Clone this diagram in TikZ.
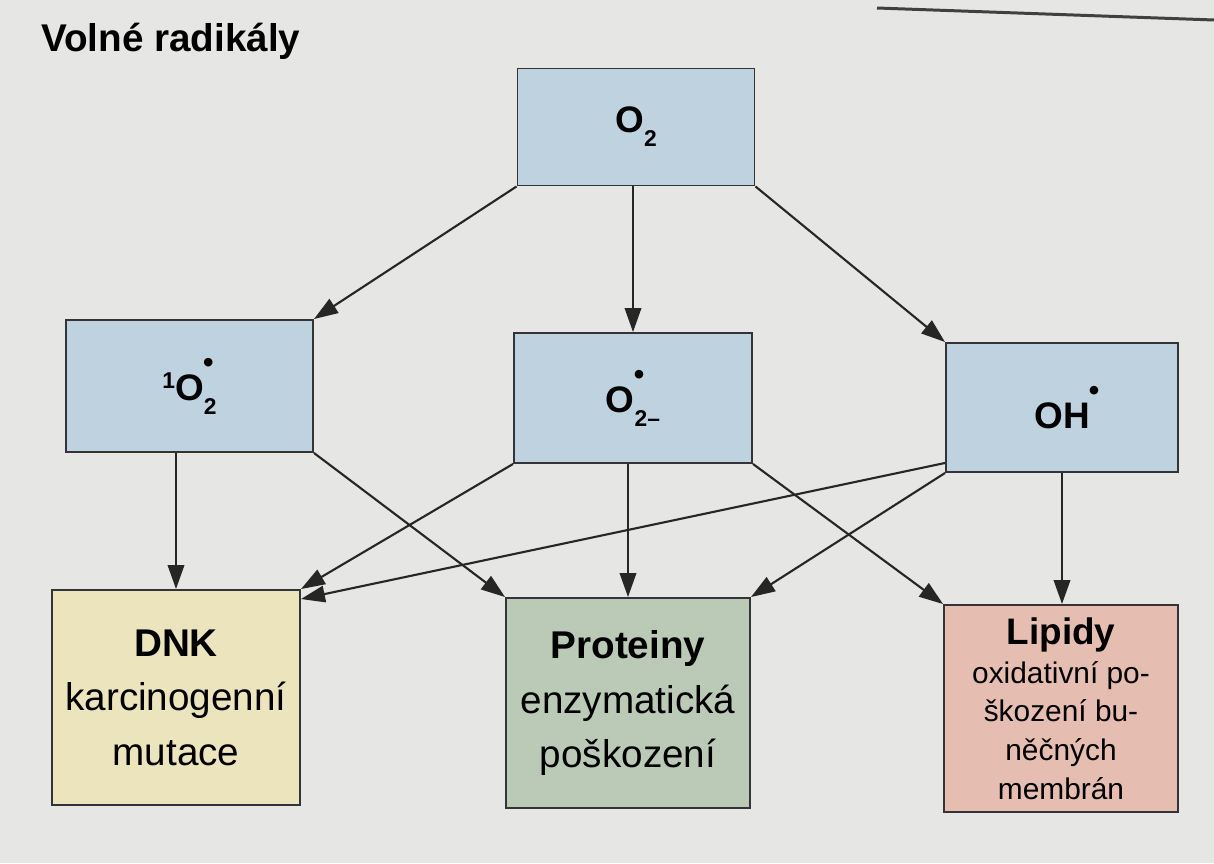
\documentclass[tikz,border=0pt]{standalone}
\usepackage{fontspec}
\setmainfont{Liberation Sans}
\usepackage{graphicx}
\usepackage{tikz}
\usetikzlibrary{arrows.meta,positioning,calc}
\definecolor{pagebg}{RGB}{230,230,228}
\definecolor{radblue}{RGB}{190,210,223}
\definecolor{dnkfill}{RGB}{236,228,188}
\definecolor{protfill}{RGB}{186,202,183}
\definecolor{lipfill}{RGB}{230,190,177}
\definecolor{edge}{RGB}{50,52,55}
% small helpers for the formulas
\newcommand{\lowix}[1]{\raisebox{-0.38em}{\fontsize{13pt}{13pt}\selectfont #1}}
\newcommand{\highix}[1]{\raisebox{0.32em}{\fontsize{13pt}{13pt}\selectfont #1}}
\newcommand{\raddot}{\makebox[0pt][l]{\raisebox{0.76em}{\kern-0.02em\fontsize{17pt}{17pt}\selectfont\textbullet}}}
\tikzset{
  >={Triangle[length=4.8mm, width=3.3mm]},
  rad/.style={draw=edge, line width=1.1pt, fill=radblue, align=center,
    font=\fontsize{21pt}{25pt}\selectfont\bfseries, inner sep=2pt},
  cil/.style={draw=edge, line width=1.1pt, align=center,
    font=\fontsize{22pt}{31pt}\selectfont, inner sep=2pt},
  flow/.style={->, line width=1.2pt, draw=black!85},
}
\begin{document}
\begin{tikzpicture}[
  lipfont/.style={font=\fontsize{17pt}{22pt}\selectfont}]
  \useasboundingbox (0,0) rectangle (24.28,-17.26);
  \fill[pagebg] (0,0) rectangle (24.28,-17.26);
  \draw[black!75, line width=1.7pt] (17.54,-0.16) -- (24.28,-0.40);
  \node[anchor=base west, font=\fontsize{22pt}{26pt}\selectfont\bfseries] (titul) at (0.70,-1.02) {Volné radikály};
  % radicals
  \node[rad, minimum width=4.74cm, minimum height=2.34cm] (kyslik) at (12.72,-2.54) {O\lowix{2}};
  \node[rad, minimum width=4.94cm, minimum height=2.64cm] (singlet) at (3.79,-7.72) {\highix{1}O\raddot\lowix{2}};
  \node[rad, minimum width=4.76cm, minimum height=2.60cm] (superoxid) at (12.66,-7.96) {O\raddot\lowix{2–}};
  \node[rad, minimum width=4.64cm, minimum height=2.58cm] (hydroxyl) at (21.24,-8.15) {OH\raddot};
  % targets
  \node[cil, fill=dnkfill, minimum width=4.96cm, minimum height=4.30cm] (dnk) at (3.52,-13.95)
    {\textbf{DNK}\\ karcinogenní\\ mutace};
  \node[cil, fill=protfill, minimum width=4.88cm, minimum height=4.20cm] (prot) at (12.56,-14.06)
    {\textbf{Proteiny}\\ enzymatická\\ poškození};
  \node[cil, lipfont, fill=lipfill, minimum width=4.68cm, minimum height=4.14cm] (lip) at (21.22,-14.17)
    {\textbf{\fontsize{21pt}{25pt}\selectfont Lipidy}\\ oxidativní po-\\ škození bu-\\ něčných\\ membrán};
  % arrows
  \draw[flow] (kyslik.south west) -- (singlet.north east);
  \draw[flow] (kyslik.south -| superoxid.north) -- (superoxid.north);
  \draw[flow] (kyslik.south east) -- (hydroxyl.north west);
  \draw[flow] (singlet.south -| dnk.north) -- (dnk.north);
  \draw[flow] (singlet.south east) -- (prot.north west);
  \draw[flow] (superoxid.south west) -- (dnk.north east);
  \draw[flow] (superoxid.south -| prot.north) -- (prot.north);
  \draw[flow] (superoxid.south east) -- (lip.north west);
  \draw[flow] ([yshift=2mm]hydroxyl.south west) -- ([yshift=-2mm]dnk.north east);
  \draw[flow] (hydroxyl.south west) -- (prot.north east);
  \draw[flow] (hydroxyl.south) -- (hydroxyl.south |- lip.north);
\end{tikzpicture}
\end{document}
